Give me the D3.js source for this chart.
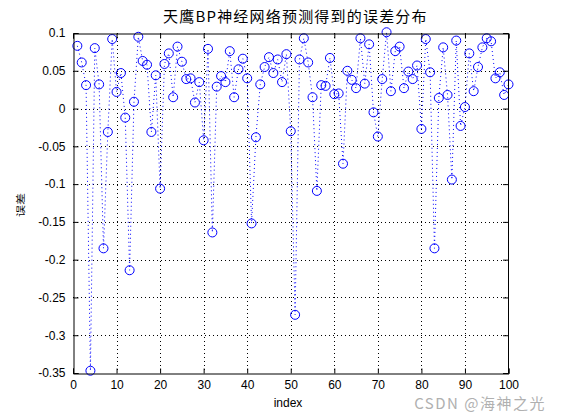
<!DOCTYPE html>
<html><head><meta charset="utf-8">
<script src="https://cdn.jsdelivr.net/npm/d3@7"></script>
<style>
body{margin:0;background:#fff;}
text{font-family:"Liberation Sans",Arial,sans-serif;}
</style></head>
<body><svg id="c" width="561" height="420"></svg>
<script>
const title = "天鹰BP神经网络预测得到的误差分布";
const xLabel = "index";
const yLabel = "误差";
const xTicks = [0,10,20,30,40,50,60,70,80,90,100];
const yTicks = [0.1,0.05,0,-0.05,-0.1,-0.15,-0.2,-0.25,-0.3,-0.35];
const errors = [0.083,0.061,0.031,-0.347,0.080,0.032,-0.185,-0.031,0.092,0.022,
0.047,-0.012,-0.214,0.009,0.095,0.063,0.058,-0.031,0.044,-0.106,
0.059,0.073,0.015,0.082,0.062,0.039,0.040,0.008,0.035,-0.042,
0.079,-0.164,0.029,0.043,0.035,0.076,0.015,0.052,0.066,0.040,
-0.152,-0.038,0.032,0.055,0.068,0.047,0.065,0.035,0.072,-0.030,
-0.273,0.065,0.093,0.061,0.015,-0.109,0.031,0.030,0.067,0.019,
0.020,-0.073,0.050,0.038,0.027,0.093,0.033,0.085,-0.005,-0.037,
0.039,0.101,0.023,0.076,0.082,0.027,0.049,0.039,0.057,-0.027,
0.092,0.048,-0.185,0.014,0.081,0.018,-0.094,0.090,-0.023,0.002,
0.073,0.023,0.055,0.081,0.093,0.089,0.040,0.048,0.018,0.032];
const index = errors.map((d,i)=>i+1);

const svg = d3.select("#c");
const L=73,R=508.5,T=33,B=373;
const x = d3.scaleLinear().domain([0,100]).range([L,R]);
const y = d3.scaleLinear().domain([-0.35,0.1]).range([B,T]);

// grid
const g = svg.append("g");
xTicks.forEach(t=>{ if(t>0&&t<100) g.append("line").attr("x1",Math.round(x(t))+0.5).attr("x2",Math.round(x(t))+0.5).attr("y1",T).attr("y2",B).attr("stroke","#000").attr("stroke-width",1).attr("stroke-dasharray","1,3");});
yTicks.forEach(t=>{ if(t<0.099&&t>-0.349) g.append("line").attr("x1",L).attr("x2",R).attr("y1",Math.round(y(t))+0.5).attr("y2",Math.round(y(t))+0.5).attr("stroke","#000").attr("stroke-width",1).attr("stroke-dasharray","1,3");});

// line
const line = d3.line().x((d,i)=>x(index[i])).y(d=>y(d));
svg.append("path").datum(errors).attr("d",line).attr("fill","none").attr("stroke","#0000ff").attr("stroke-width",1).attr("stroke-dasharray","1,3");
svg.selectAll("circle.p").data(errors).enter().append("circle").attr("class","p")
  .attr("cx",(d,i)=>x(index[i])).attr("cy",d=>y(d)).attr("r",4.5)
  .attr("fill","none").attr("stroke","#0000ff").attr("stroke-width",1);

// axes
const xa = svg.append("g").attr("transform",`translate(0,${B+0.5})`)
  .call(d3.axisBottom(x).tickValues(xTicks).tickSize(-5).tickPadding(7).tickFormat(d3.format("d")));
const xt = svg.append("g").attr("transform",`translate(0,${T+0.5})`)
  .call(d3.axisTop(x).tickValues(xTicks).tickSize(-5).tickFormat(""));
const ya = svg.append("g").attr("transform",`translate(${L+0.5},0)`)
  .call(d3.axisLeft(y).tickValues(yTicks).tickSize(-5).tickPadding(8).tickFormat(d=>d===0?"0":String(+d.toFixed(2))));
const yr = svg.append("g").attr("transform",`translate(${R-0.5},0)`)
  .call(d3.axisRight(y).tickValues(yTicks).tickSize(-5).tickFormat(""));
[xa,xt,ya,yr].forEach(a=>{a.select(".domain").attr("stroke","#000"); a.selectAll("line").attr("stroke","#000"); a.selectAll("text").attr("fill","#000").style("font-size","12px").style("font-family","'Liberation Sans',Arial,sans-serif");});

svg.append("text").attr("x",163).attr("y",22).attr("text-anchor","start").style("font-size","15px").style("letter-spacing","1.2px").style("font-family","'Noto Sans CJK SC',sans-serif").text(title);
svg.append("text").attr("x",288).attr("y",407).attr("text-anchor","middle").style("font-size","12px").text(xLabel);
svg.append("text").attr("transform",`translate(24,${205}) rotate(-90) scale(1,0.75)`).attr("text-anchor","middle").style("font-size","12px").style("font-family","'Noto Sans CJK SC',sans-serif").text(yLabel);
svg.append("text").attr("x",546).attr("y",409).attr("text-anchor","end").attr("fill","#b0b0b0").style("font-size","15px").style("letter-spacing","1.5px").style("font-family","'Noto Sans CJK SC',sans-serif").text("CSDN @海神之光");
</script></body></html>
